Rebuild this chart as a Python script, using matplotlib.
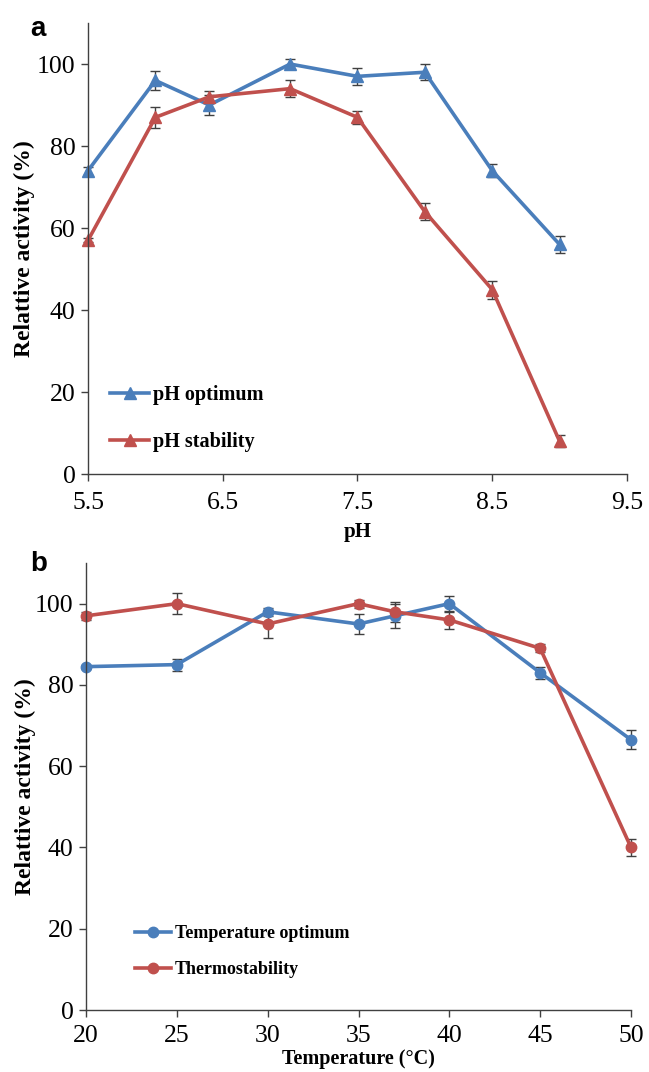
import matplotlib
matplotlib.use("Agg")
import matplotlib.pyplot as plt

# panel a: pH profile
ph = [5.5, 6.0, 6.4, 7.0, 7.5, 8.0, 8.5, 9.0]
ph_opt = [74, 96, 90, 100, 97, 98, 74, 56]
ph_opt_err = [1.0, 2.3, 2.4, 1.3, 2.0, 2.0, 1.6, 2.0]
ph_stab = [57, 87, 92, 94, 87, 64, 45, 8]
ph_stab_err = [0.5, 2.6, 1.5, 2.0, 1.6, 2.0, 2.2, 1.5]
ph_ticks = [5.5, 6.5, 7.5, 8.5, 9.5]

# panel b: temperature profile
temp = [20, 25, 30, 35, 37, 40, 45, 50]
t_opt = [84.5, 85, 98, 95, 97, 100, 83, 66.5]
t_opt_err = [0.5, 1.5, 1.0, 2.5, 3.0, 2.0, 1.5, 2.3]
t_stab = [97, 100, 95, 100, 98, 96, 89, 40]
t_stab_err = [1.0, 2.6, 3.5, 1.0, 2.5, 2.3, 1.0, 2.0]
t_ticks = [20, 25, 30, 35, 40, 45, 50]

y_ticks = [0, 20, 40, 60, 80, 100]

BLUE = "#4a7ebb"
RED = "#c0504d"
ERR = "#404040"
AXC = "#404040"
SERIF = ["Liberation Serif", "DejaVu Serif"]
YLABEL = "Relattive activity (%)"

plt.rcParams["font.family"] = SERIF

fig = plt.figure(figsize=(6.49, 10.72), dpi=100)
ax1 = fig.add_axes([0.1356, 0.5578, 0.8304, 0.4207])
ax2 = fig.add_axes([0.1325, 0.0578, 0.8398, 0.4170])


def style(ax, xlim, xticks, xlabel, xpad, labelpad, xlsize):
    ax.set_xlim(*xlim)
    ax.set_ylim(0, 110)
    ax.set_xticks(xticks)
    ax.set_yticks(y_ticks)
    for s in ("top", "right"):
        ax.spines[s].set_visible(False)
    for s in ("left", "bottom"):
        ax.spines[s].set_color(AXC)
        ax.spines[s].set_linewidth(1.0)
    ax.tick_params(direction="out", length=5, width=1.0, color=AXC,
                   labelsize=18.5, pad=4)
    ax.tick_params(axis="x", pad=xpad)
    ax.set_ylabel(YLABEL, fontsize=17, fontweight="bold")
    ax.set_xlabel(xlabel, fontsize=xlsize, fontweight="bold", labelpad=labelpad)


def series(ax, x, y, err, color, marker, ms, label):
    ax.errorbar(x, y, yerr=err, color=color, lw=2.6, marker=marker, ms=ms,
                ecolor=ERR, elinewidth=1.0, capsize=3.6, capthick=1.0,
                label=label, clip_on=False)


series(ax1, ph, ph_opt, ph_opt_err, BLUE, "^", 8.5, "pH optimum")
series(ax1, ph, ph_stab, ph_stab_err, RED, "^", 8.5, "pH stability")
style(ax1, (5.5, 9.5), ph_ticks, "pH", 8, 6, 15)
ax1.set_xticklabels([f"{v:.1f}" for v in ph_ticks])
h, l = ax1.get_legend_handles_labels()
h = [hh[0] for hh in h]
ax1.legend(h, l, loc="lower left", bbox_to_anchor=(0.008, 0.008), frameon=False,
           prop={"family": SERIF, "weight": "bold", "size": 14.5},
           handlelength=1.9, handletextpad=0.2, labelspacing=1.35)

series(ax2, temp, t_opt, t_opt_err, BLUE, "o", 7.5, "Temperature optimum")
series(ax2, temp, t_stab, t_stab_err, RED, "o", 7.5, "Thermostability")
style(ax2, (20, 50), t_ticks, "Temperature (\u00b0C)", 6, 1, 14.5)
h, l = ax2.get_legend_handles_labels()
h = [hh[0] for hh in h]
ax2.legend(h, l, loc="lower left", bbox_to_anchor=(0.06, 0.035), frameon=False,
           prop={"family": SERIF, "weight": "bold", "size": 13},
           handlelength=2.0, handletextpad=0.2, labelspacing=1.05)

ax1.yaxis.set_label_coords(-0.098, 0.5)
ax2.yaxis.set_label_coords(-0.091, 0.5)

fig.text(0.046, 0.985, "a", fontsize=20, fontweight="bold",
         family=["Liberation Sans", "DejaVu Sans"], va="top", ha="left")
fig.text(0.046, 0.4864, "b", fontsize=20, fontweight="bold",
         family=["Liberation Sans", "DejaVu Sans"], va="top", ha="left")

fig.savefig("out.png", dpi=100)
